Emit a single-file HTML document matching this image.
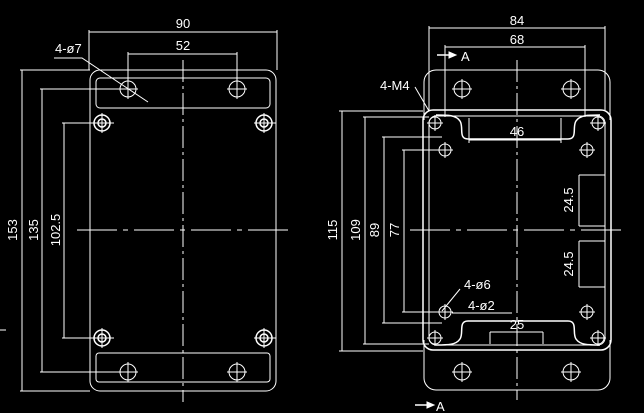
<!DOCTYPE html>
<html><head><meta charset="utf-8"><style>
html,body{margin:0;padding:0;background:#000;width:644px;height:413px;overflow:hidden}
svg{display:block}
text{font-family:"Liberation Sans",sans-serif;fill:#fff;stroke:none;font-size:13px}
</style></head><body>
<svg width="644" height="413" viewBox="0 0 644 413" stroke="#fff" fill="none" stroke-width="1">
<!-- LEFT VIEW -->
<rect x="90" y="70" width="186" height="321" rx="10"/>
<rect x="96" y="78" width="174" height="30" rx="4"/>
<rect x="96" y="353" width="174" height="29" rx="3"/>
<line x1="183" y1="60" x2="183" y2="402" stroke-dasharray="22,4,3,4"/>
<line x1="77" y1="230" x2="290" y2="230" stroke-dasharray="40,6,5,6"/>
<g>
<circle cx="128" cy="89" r="8"/><circle cx="237" cy="89" r="8"/>
<circle cx="128" cy="372" r="8"/><circle cx="237" cy="372" r="8"/>
<path d="M118 89h20M128 79v20M227 89h20M237 79v20M118 372h20M128 362v20M227 372h20M237 362v20"/>
</g>
<g stroke-width="1.5">
<circle cx="102" cy="123" r="8"/><circle cx="102" cy="123" r="4"/>
<circle cx="264" cy="123" r="8"/><circle cx="264" cy="123" r="4"/>
<circle cx="102" cy="338" r="8"/><circle cx="102" cy="338" r="4"/>
<circle cx="264" cy="338" r="8"/><circle cx="264" cy="338" r="4"/>
</g>
<path d="M92 123h22M102 113v20M254 123h22M264 113v20M92 338h22M102 328v20M254 338h22M264 328v20"/>
<path d="M89 30v40M277 30v40M89 32h188"/>
<path d="M128 52v30M237 52v30M128 54h109"/>
<path d="M20 70h70M40 89h88M62 123h40M20 391h70M40 372h88M62 338h40"/>
<path d="M22 70v321M42 89v283M64 123v215"/>
<path d="M54 58h28l66 44"/>
<text x="183" y="28" text-anchor="middle" font-size="14">90</text>
<text x="183" y="50" text-anchor="middle" font-size="14">52</text>
<text x="55" y="53" font-size="13">4-ø7</text>
<text transform="translate(17,230) rotate(-90)" text-anchor="middle">153</text>
<text transform="translate(38,230) rotate(-90)" text-anchor="middle">135</text>
<text transform="translate(60,230) rotate(-90)" text-anchor="middle">102.5</text>
<line x1="0" y1="330" x2="6" y2="330"/>
<!-- RIGHT VIEW -->
<path d="M424 120V82a12 12 0 0 1 12-12h162a12 12 0 0 1 12 12v38"/>
<path d="M424 340v38a12 12 0 0 0 12 12h162a12 12 0 0 0 12-12v-38"/>
<rect x="423" y="110" width="188" height="240" rx="10" stroke-width="1.5"/>
<rect x="429" y="116" width="176" height="229" rx="7"/>
<path d="M436 115c12 0 20 0 24 6s-2 18 8 18h100c10 0 4-12 8-18s12-6 24-6" stroke-width="1.5"/>
<path d="M436 345c12 0 20 0 24-6s-2-18 8-18h100c10 0 4 12 8 18s12 6 24 6" stroke-width="1.5"/>
<line x1="517" y1="60" x2="517" y2="400" stroke-dasharray="22,4,3,4"/>
<line x1="410" y1="230" x2="622" y2="230" stroke-dasharray="40,6,5,6"/>
<g>
<circle cx="462" cy="89" r="8"/><circle cx="571" cy="89" r="8"/>
<circle cx="462" cy="372" r="8"/><circle cx="571" cy="372" r="8"/>
<path d="M452 89h20M462 79v20M561 89h20M571 79v20M452 372h20M462 362v20M561 372h20M571 362v20"/>
<circle cx="435" cy="123" r="6"/><circle cx="598" cy="123" r="6"/>
<circle cx="435" cy="338" r="6"/><circle cx="598" cy="338" r="6"/>
<path d="M427 123h16M435 115v16M590 123h16M598 115v16M427 338h16M435 330v16M590 338h16M598 330v16"/>
<circle cx="445" cy="150" r="6"/><circle cx="587" cy="150" r="6"/>
<circle cx="445" cy="312" r="6"/><circle cx="587" cy="312" r="6"/>
<path d="M437 150h16M445 142v16M579 150h16M587 142v16M437 312h16M445 304v16M579 312h16M587 304v16"/>
</g>
<path d="M429 26v84M605 26v84M429 28h176"/>
<path d="M445 45v72M585 45v72M445 47h140"/>
<path d="M469 118v25M561 118v25M469 140h92"/>
<path d="M490 332v12M543 332v12M490 332h53"/>
<path d="M339 111h84M363 117h66M382 137h60M402 150h43M339 351h84M363 344h66M382 323h60M402 312h43"/>
<path d="M342 111v240M365 117v227M384 137v186M404 150v162"/>
<path d="M579 175v51M579 241v46M579 175h26M579 226h26M579 241h26M579 287h26"/>
<path d="M415 87l14 24"/>
<path d="M460 289l-18 22M452 313h60"/>
<path d="M437 55h18M415 405h18" stroke-width="1.5"/>
<path d="M449 52l7 3-7 3zM427 402l7 3-7 3z" fill="#fff"/>
<text x="517" y="25" text-anchor="middle" font-size="14">84</text>
<text x="517" y="44" text-anchor="middle" font-size="14">68</text>
<text x="517" y="136" text-anchor="middle" font-size="14">46</text>
<text x="517" y="329" text-anchor="middle" font-size="14">25</text>
<text x="461" y="61" font-size="15">A</text>
<text x="436" y="411" font-size="15">A</text>
<text x="380" y="90" font-size="12">4-M4</text>
<text x="464" y="289" font-size="12">4-ø6</text>
<text x="468" y="310" font-size="12">4-ø2</text>
<text transform="translate(337,230) rotate(-90)" text-anchor="middle">115</text>
<text transform="translate(360,230) rotate(-90)" text-anchor="middle">109</text>
<text transform="translate(379,230) rotate(-90)" text-anchor="middle">89</text>
<text transform="translate(399,230) rotate(-90)" text-anchor="middle">77</text>
<text transform="translate(573,200) rotate(-90)" text-anchor="middle">24.5</text>
<text transform="translate(573,264) rotate(-90)" text-anchor="middle">24.5</text>
</svg>
</body></html>
